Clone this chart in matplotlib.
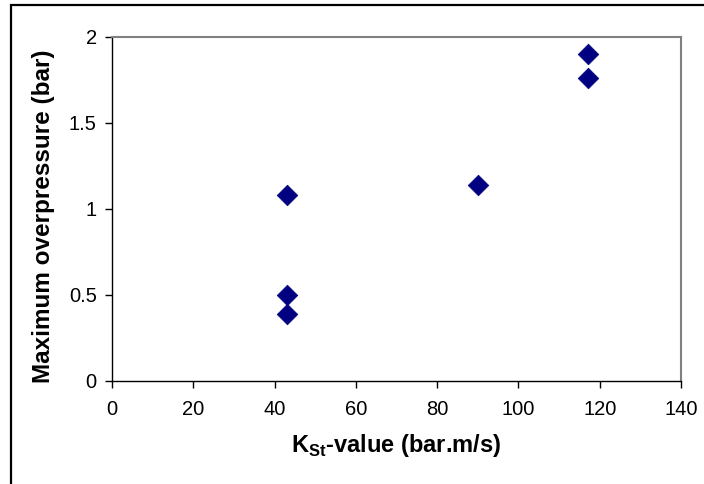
import matplotlib
matplotlib.use("Agg")
import matplotlib.pyplot as plt
from matplotlib.patches import Rectangle

kst_values = [43, 43, 43, 90, 117, 117]
max_overpressure = [1.08, 0.50, 0.39, 1.14, 1.90, 1.76]
x_ticks = [0, 20, 40, 60, 80, 100, 120, 140]
y_ticks = [0, 0.5, 1, 1.5, 2]
y_tick_labels = ["0", "0.5", "1", "1.5", "2"]

plt.rcParams['font.family'] = ['Liberation Sans', 'DejaVu Sans']
plt.rcParams['mathtext.fontset'] = 'custom'
plt.rcParams['mathtext.bf'] = 'Liberation Sans:bold'
plt.rcParams['mathtext.rm'] = 'Liberation Sans'

W, H = 704, 484
fig = plt.figure(figsize=(W / 100, H / 100), dpi=100)
fig.patch.set_facecolor('white')

# outer chart border (only top and left visible)
fig.patches.append(Rectangle((10.5 / W, -0.2), 1.2, 1 - 4.5 / H + 0.2,
                             transform=fig.transFigure, fill=False,
                             edgecolor='black', linewidth=1.6))

ax = fig.add_axes([112 / W, 1 - 381 / H, (681 - 112) / W, (381 - 37) / H])
ax.scatter(kst_values, max_overpressure, marker='D', s=10.5 ** 2,
           color='#000080', edgecolors='#000080', linewidths=0.5, zorder=3,
           clip_on=False)

ax.set_xlim(0, 140)
ax.set_ylim(0, 2)
ax.set_xticks(x_ticks)
ax.set_xticklabels([str(t) for t in x_ticks])
ax.set_yticks(y_ticks)
ax.set_yticklabels(y_tick_labels)

for side in ['top', 'right']:
    ax.spines[side].set_color('#808080')
    ax.spines[side].set_linewidth(1.5)
for side in ['left', 'bottom']:
    ax.spines[side].set_color('black')
    ax.spines[side].set_linewidth(1.0)

ax.tick_params(axis='both', direction='out', length=5, width=1, color='black',
               labelsize=14.5, labelcolor='black')
ax.tick_params(axis='x', pad=9)
ax.tick_params(axis='y', pad=6)

ax.set_xlabel(r'K$_{\mathbf{St}}$-value (bar.m/s)', fontsize=17,
              fontweight='bold')
ax.set_ylabel('Maximum overpressure (bar)', fontsize=17.5,
              fontweight='bold')
ax.xaxis.set_label_coords(0.5, (381 - 432) / 344)
ax.yaxis.set_label_coords((55 - 112) / 569, (381 - 216.5) / 344)

fig.savefig('out.png', dpi=100, facecolor='white')
